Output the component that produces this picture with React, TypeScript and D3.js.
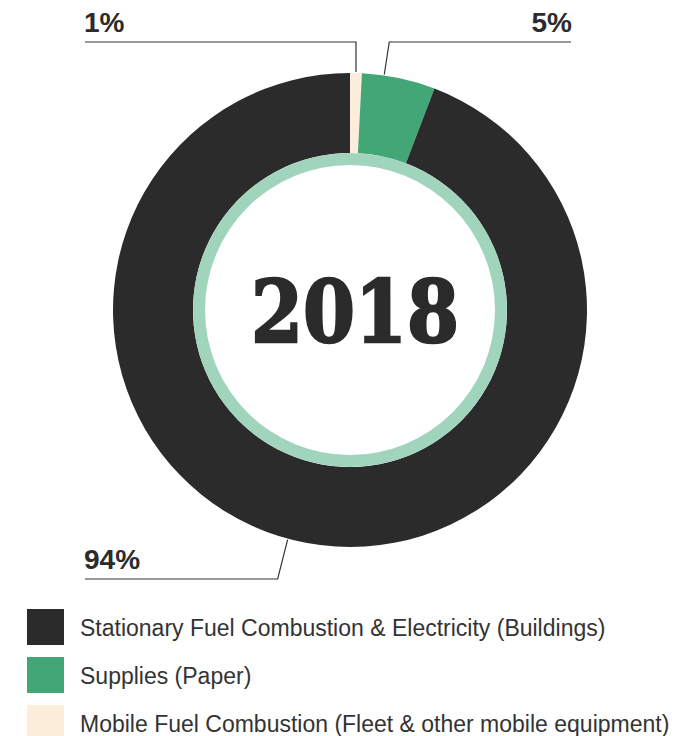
import React from "react";
import * as d3 from "d3";

const categories = [
  "Stationary Fuel Combustion & Electricity (Buildings)",
  "Supplies (Paper)",
  "Mobile Fuel Combustion (Fleet & other mobile equipment)",
];
const values = [94.2, 5.0, 0.8];
const labels = ["94%", "5%", "1%"];
const colors = ["#2b2b2b", "#43a677", "#fdeedc"];
const centerYear = "2018";

const W = 694;
const H = 736;
const cx = 350;
const cy = 310;
const rOuter = 237;
const rInner = 157;
const ringInner = 145;

export default function App() {
  // pie drawn clockwise from top: mobile, supplies, stationary
  const order = [2, 1, 0];
  const pie = d3
    .pie<number>()
    .sort(null)
    .value((i) => values[i]);
  const arcs = pie(order);
  const arcGen = d3.arc<d3.PieArcDatum<number>>().innerRadius(rInner).outerRadius(rOuter);
  const ringArc = d3.arc()({ innerRadius: ringInner, outerRadius: rInner, startAngle: 0, endAngle: 2 * Math.PI }) as string;

  const anchorFrac: Record<number, number> = { 2: 0.5, 1: 0.3, 0: 0.514 };
  const pt = (a: number, r: number) => [cx + r * Math.sin(a), cy - r * Math.cos(a)];

  const leaders = arcs.map((d) => {
    const i = d.data;
    const a = d.startAngle + (d.endAngle - d.startAngle) * anchorFrac[i];
    const [ax, ay] = pt(a, rOuter + 1);
    let pts: number[][];
    if (i === 2) pts = [[ax, ay], [ax, 42], [85, 42]];
    else if (i === 1) pts = [[ax, ay], [ax + 5, 42], [571, 42]];
    else pts = [[ax, ay], [ax - 10, 579], [85, 579]];
    return { i, pts };
  });

  const legendY = d3.scaleBand<number>().domain([0, 1, 2]).range([609, 753]).paddingInner(0);

  return (
    <svg width={W} height={H} style={{ position: "absolute", left: 0, top: 0 }} fontFamily="'Liberation Sans', Arial, sans-serif">
      <rect width={W} height={H} fill="#fff" />
      <g transform={`translate(${cx},${cy})`}>
        {arcs.map((d) => (
          <path key={d.data} d={arcGen(d) as string} fill={colors[d.data]} />
        ))}
        <path d={ringArc} fill="#a0d4bd" />
      </g>
      {leaders.map((l) => (
        <polyline key={l.i} points={l.pts.map((p) => p.join(",")).join(" ")} fill="none" stroke="#333" strokeWidth={1.2} />
      ))}
      <text x={84} y={32} fontSize={28} fontWeight="bold" fill="#2b2b2b">{labels[2]}</text>
      <text x={572} y={32} fontSize={28} fontWeight="bold" fill="#2b2b2b" textAnchor="end">{labels[1]}</text>
      <text x={84} y={569} fontSize={28} fontWeight="bold" fill="#2b2b2b">{labels[0]}</text>
      <text
        x={355}
        y={342}
        fontSize={86}
        fontWeight="bold"
        fontFamily="'DejaVu Serif', serif"
        fill="#2b2b2b"
        stroke="#2b2b2b"
        strokeWidth={2.5}
        textAnchor="middle"
        textLength={208}
        lengthAdjust="spacingAndGlyphs"
      >
        {centerYear}
      </text>
      {categories.map((c, i) => (
        <g key={c}>
          <rect x={27} y={legendY(i)!} width={37} height={36} fill={colors[i]} />
          <text x={80} y={legendY(i)! + 27} fontSize={23} fill="#333">{c}</text>
        </g>
      ))}
    </svg>
  );
}
